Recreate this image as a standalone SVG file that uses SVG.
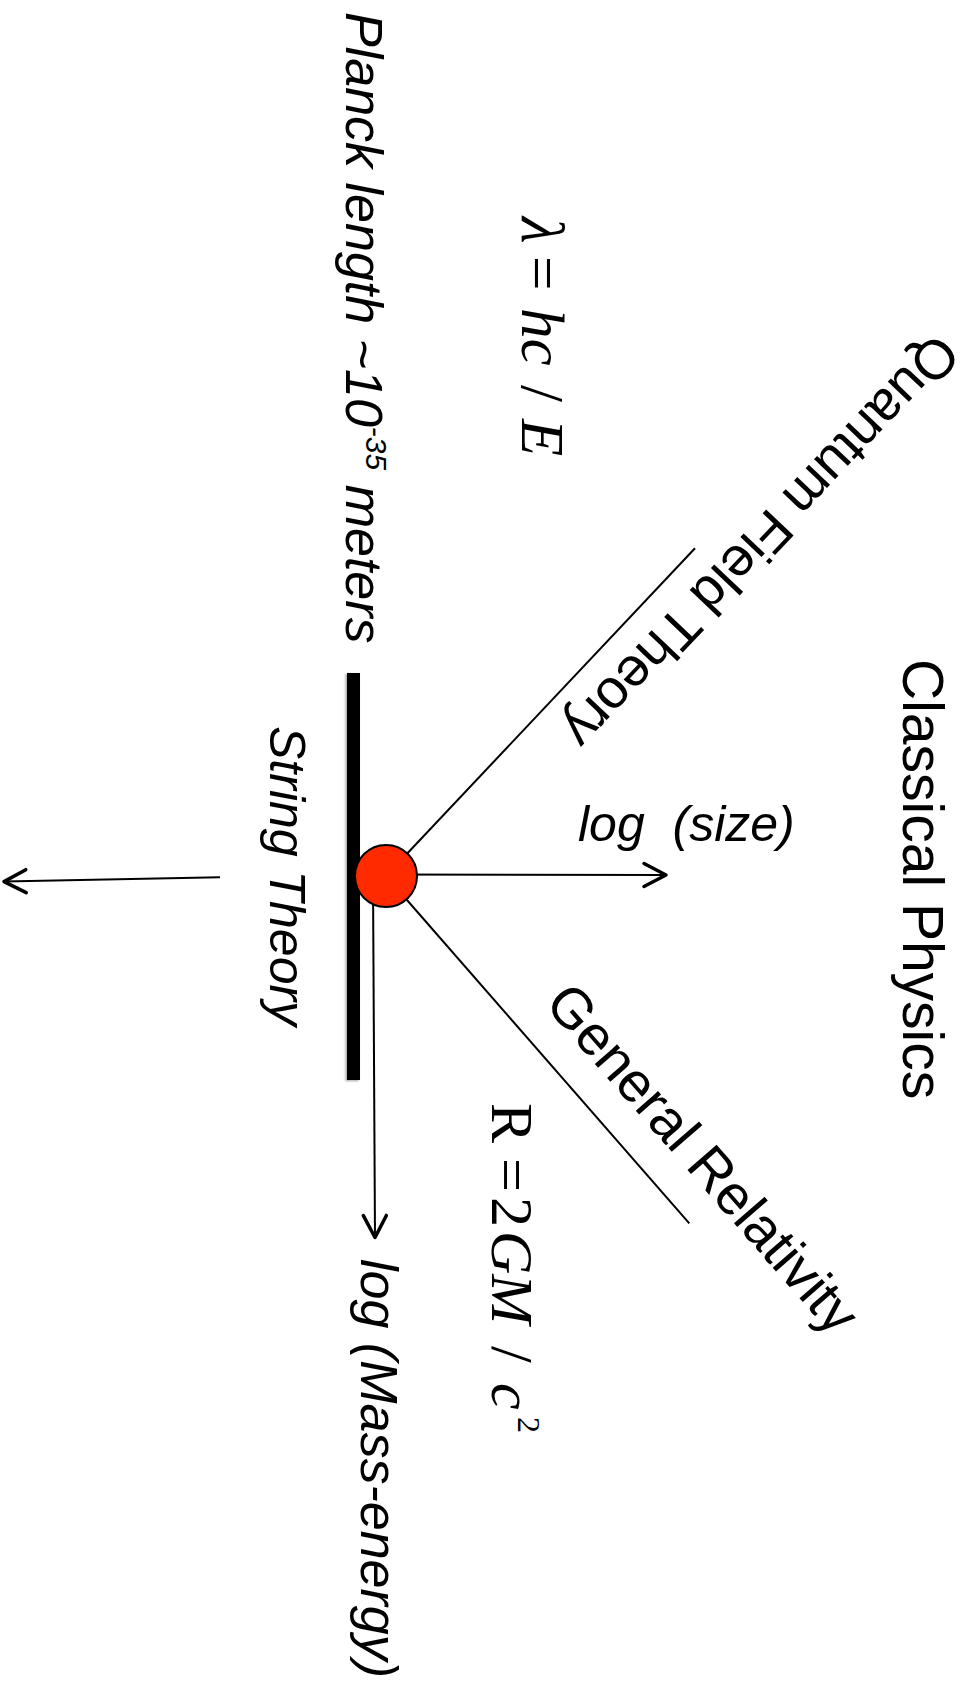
<svg xmlns="http://www.w3.org/2000/svg" width="969" height="1703" viewBox="0 0 969 1703">
<style>
  .lbl { font-family: "Liberation Sans", Arial, Helvetica, sans-serif; fill: #000; }
  .it { font-style: italic; }
  .math { font-family: "Liberation Serif", "Times New Roman", serif; fill: #000; }
  .mi { font-style: italic; }
  .ln { stroke: #000; stroke-width: 2; fill: none; }
  .ax { stroke: #000; stroke-width: 2; fill: none; marker-end: url(#arr); }
</style>
<defs>
  <marker id="arr" markerUnits="userSpaceOnUse" markerWidth="40" markerHeight="40" viewBox="-30 -20 40 40" refX="0" refY="0" orient="auto">
    <path d="M-22,-11.5 L0,0 L-22,11.5" fill="none" stroke="#000" stroke-width="3.5" stroke-linecap="round" stroke-linejoin="round"/>
  </marker>
  <filter id="sh" x="-50%" y="-5%" width="200%" height="110%">
    <feDropShadow dx="-1.5" dy="1" stdDeviation="1.2" flood-color="#000" flood-opacity="0.35"/>
  </filter>
</defs>
<rect width="969" height="1703" fill="#fff"/>

<g id="connectors">
  <line class="ln" x1="386" y1="876" x2="695" y2="548.3"/>
  <line class="ln" x1="386" y1="876" x2="689.3" y2="1223.3"/>
  <line class="ax" x1="386" y1="874.5" x2="666" y2="875"/>
  <line class="ax" x1="373" y1="880" x2="375" y2="1237.5"/>
  <line class="ax" x1="220" y1="877.3" x2="4" y2="881.6"/>
</g>

<g id="planck-bar">
  <rect x="347" y="673" width="13" height="407" fill="#000" filter="url(#sh)"/>
</g>

<g id="origin">
  <circle cx="386" cy="876" r="31" fill="#ff2a00" stroke="#000" stroke-width="2"/>
</g>

<g id="label-planck">
  <text class="lbl it" font-size="52" transform="translate(346,12) rotate(90)">Planck length ~10<tspan font-size="30" dy="-20">-35</tspan><tspan dy="20"> meters</tspan></text>
</g>

<g id="label-lambda">
  <text class="math" font-size="61" transform="translate(522,217) rotate(90)"><tspan class="mi" x="0">λ</tspan><tspan x="39">=</tspan><tspan class="mi" x="91">hc</tspan><tspan x="168">/</tspan><tspan class="mi" x="202">E</tspan></text>
</g>

<g id="label-qft">
  <text class="lbl" font-size="55" transform="translate(935.6,331.1) rotate(133.5)">Quantum Field Theory</text>
</g>

<g id="label-classical">
  <text class="lbl" font-size="57" transform="translate(903,659) rotate(90)">Classical Physics</text>
</g>

<g id="label-size">
  <text class="lbl it" font-size="50" x="578" y="841" xml:space="preserve" style="white-space:pre">log  (size)</text>
</g>

<g id="label-string">
  <text class="lbl it" font-size="50" transform="translate(270,726) rotate(90)">String Theory</text>
</g>

<g id="label-gr">
  <text class="lbl" font-size="56" transform="translate(543.2,1004.6) rotate(48.9)">General Relativity</text>
</g>

<g id="label-schwarzschild">
  <text class="math" font-size="60" transform="translate(492,1103) rotate(90)"><tspan x="0">R</tspan><tspan x="55">=</tspan><tspan x="94">2</tspan><tspan class="mi" x="128">GM</tspan><tspan x="243">/</tspan><tspan class="mi" x="280">c</tspan><tspan font-size="32" x="314" dy="-26">2</tspan></text>
</g>

<g id="label-mass">
  <text class="lbl it" font-size="52" transform="translate(361,1259) rotate(90)">log (Mass-energy)</text>
</g>
</svg>
